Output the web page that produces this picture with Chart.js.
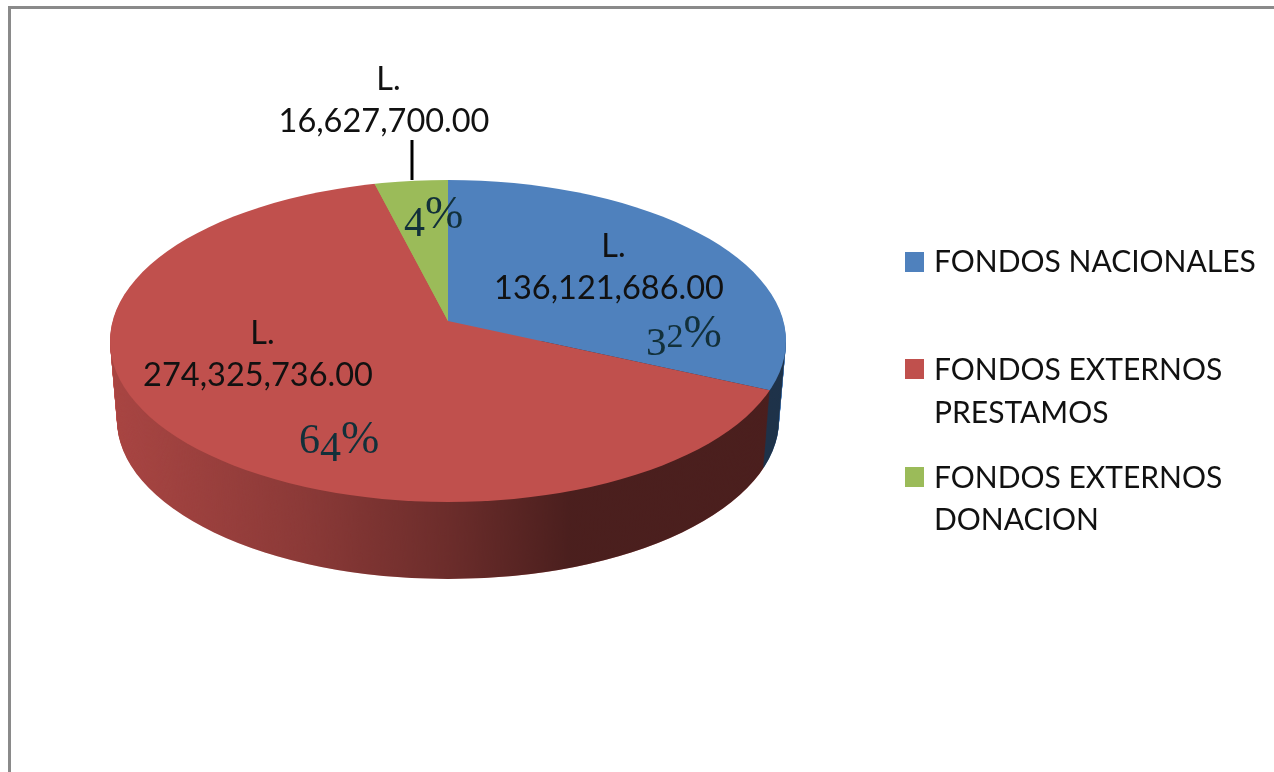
<!DOCTYPE html>
<html>
<head>
<meta charset="utf-8">
<title>Fondos</title>
<script src="https://cdn.jsdelivr.net/npm/chart.js@4"></script>
<style>
  html, body { margin: 0; padding: 0; background: #fff; overflow: hidden; }
  #wrap { position: relative; width: 1274px; height: 772px; }
  #chart { position: absolute; left: 0; top: 0; }
  .amount, .pct, .legend-text { position: absolute; white-space: nowrap; }
  .amount { font: 32.5px/42px Lato, sans-serif; color: #111; text-align: center; transform: translateX(-50%); }
  .amount i { font-style: normal; padding-left: 9px; }
  .pct { font: 46px/50px "Liberation Serif", serif; color: #12303a; }
  .pct span { position: relative; }
  .legend-text { font: 30px/43px Lato, sans-serif; color: #111; left: 934px; }
  .swatch { position: absolute; left: 905px; width: 19px; height: 20px; }
</style>
</head>
<body>
<div id="wrap">
  <canvas id="chart" width="1274" height="772"></canvas>
</div>
<script>
"use strict";

/* ---------------- DATA ---------------- */

const categories = ["FONDOS NACIONALES", "FONDOS EXTERNOS PRESTAMOS", "FONDOS EXTERNOS DONACION"];
const legendLines = [["FONDOS NACIONALES"], ["FONDOS EXTERNOS", "PRESTAMOS"], ["FONDOS EXTERNOS", "DONACION"]];
const values = [136121686, 274325736, 16627700];
const colors = ["#4F81BD", "#C0504D", "#9BBB59"];

/* ---------------- LAYOUT (not data) ---------------- */

const VERTEX = { x: 448, y: 321 };  // where the slices meet, above the ellipse centre
const TOP = { x: 448, y: 341, rx: 338, ry: 161 };
const BOTTOM = { x: 448, y: 420, rx: 331, ry: 159 };
const RADIUS = 300;                 // radius chart.js gets from the padding below
const SCALE_X = 1.35;
const SCALE_Y = 0.63;

const amountPos = [{ x: 609, y: 224 }, { x: 258, y: 311 }, { x: 384, y: 57 }];
const pctPos = [{ x: 646, y: 307 }, { x: 299, y: 413 }, { x: 404, y: 188 }];
const legendPos = [{ swatch: 252, lines: [239] }, { swatch: 359, lines: [347, 390] }, { swatch: 467, lines: [455, 497] }];

/* ---------------- 3D PIE PLUGIN ---------------- */

function lerp(a, b, t) {
  return a + (b - a) * t;
}

function applyPieTransform(ctx, dy) {
  ctx.translate(VERTEX.x, VERTEX.y + dy);
  ctx.scale(SCALE_X, SCALE_Y);
  ctx.translate(-VERTEX.x, -VERTEX.y);
}

function drawSide(chart) {
  const ctx = chart.ctx;
  const arcs = chart.getDatasetMeta(0).data;
  const depth = BOTTOM.y - TOP.y;

  // sweep the slices downward, bottom first
  for (let d = depth; d >= 1; d--) {
    const t = d / depth;
    ctx.save();
    ctx.beginPath();
    ctx.ellipse(TOP.x, TOP.y + d, lerp(TOP.rx, BOTTOM.rx, t), lerp(TOP.ry, BOTTOM.ry, t), 0, 0, Math.PI * 2);
    ctx.clip();
    applyPieTransform(ctx, d);
    arcs.forEach(a => a.draw(ctx));
    ctx.restore();
  }

  // darken the wall left to right
  const shade = ctx.createLinearGradient(TOP.x - TOP.rx, 0, TOP.x + TOP.rx, 0);
  shade.addColorStop(0, "#e0e0e0");
  shade.addColorStop(0.28, "#bababa");
  shade.addColorStop(0.5, "#8f8f8f");
  shade.addColorStop(0.68, "#636363");
  shade.addColorStop(1, "#636363");
  ctx.save();
  ctx.globalCompositeOperation = "multiply";
  ctx.fillStyle = shade;
  ctx.beginPath();
  ctx.moveTo(TOP.x - TOP.rx, TOP.y);
  ctx.lineTo(BOTTOM.x - BOTTOM.rx, BOTTOM.y);
  ctx.ellipse(BOTTOM.x, BOTTOM.y, BOTTOM.rx, BOTTOM.ry, 0, Math.PI, 0, true);
  ctx.lineTo(TOP.x + TOP.rx, TOP.y);
  ctx.closePath();
  ctx.fill();
  ctx.restore();
}

const pie3d = {
  id: "pie3d",
  beforeDatasetsDraw(chart) {
    const ctx = chart.ctx;
    drawSide(chart);
    // top face: library arcs, flattened and cut to the ellipse
    ctx.save();
    ctx.beginPath();
    ctx.ellipse(TOP.x, TOP.y, TOP.rx, TOP.ry, 0, 0, Math.PI * 2);
    ctx.clip();
    applyPieTransform(ctx, 0);
  },
  afterDatasetsDraw(chart) {
    const ctx = chart.ctx;
    ctx.restore();

    // frame
    ctx.fillStyle = "#8a8a8a";
    ctx.fillRect(8, 6, 1266, 3);
    ctx.fillRect(8, 6, 3, 766);

    // leader line of the small slice
    ctx.strokeStyle = "#000";
    ctx.lineWidth = 3;
    ctx.beginPath();
    ctx.moveTo(412, 140);
    ctx.lineTo(412, 180);
    ctx.stroke();
  },
};

/* ---------------- CHART ---------------- */

new Chart(document.getElementById("chart"), {
  type: "pie",
  data: {
    labels: categories,
    datasets: [{ data: values, backgroundColor: colors, borderWidth: 0, clip: false }],
  },
  options: {
    responsive: false,
    animation: false,
    layout: {
      padding: {
        left: VERTEX.x - RADIUS,
        right: 1274 - VERTEX.x - RADIUS,
        top: VERTEX.y - RADIUS,
        bottom: 772 - VERTEX.y - RADIUS,
      },
    },
    plugins: { legend: { display: false }, tooltip: { enabled: false } },
  },
  plugins: [pie3d],
});

/* ---------------- TEXT ---------------- */

const wrap = document.getElementById("wrap");
const total = values.reduce((a, b) => a + b, 0);

function addText(cls, x, y, html) {
  const el = document.createElement("div");
  el.className = cls;
  if (x !== null) el.style.left = x + "px";
  el.style.top = y + "px";
  el.innerHTML = html;
  wrap.appendChild(el);
  return el;
}

// old-style figures: no installed font has them, so each digit is shifted by hand
const oldStyle = {
  "2": "font-size:34px",
  "3": "font-size:41px;top:8px",
  "4": "font-size:42px;top:8px",
  "6": "font-size:42px",
};

function pctHtml(p) {
  return String(p).split("").map(c => `<span style="${oldStyle[c] || ""}">${c}</span>`).join("") + "%";
}

values.forEach((v, i) => {
  const amount = v.toLocaleString("en-US", { minimumFractionDigits: 2 });
  addText("amount", amountPos[i].x, amountPos[i].y, `<i>L.</i><br>${amount}`);
  addText("pct", pctPos[i].x, pctPos[i].y, pctHtml(Math.round(v / total * 100)));

  const sw = addText("swatch", null, legendPos[i].swatch, "");
  sw.style.background = colors[i];
  legendLines[i].forEach((line, j) => addText("legend-text", null, legendPos[i].lines[j], line));
});
</script>
</body>
</html>
